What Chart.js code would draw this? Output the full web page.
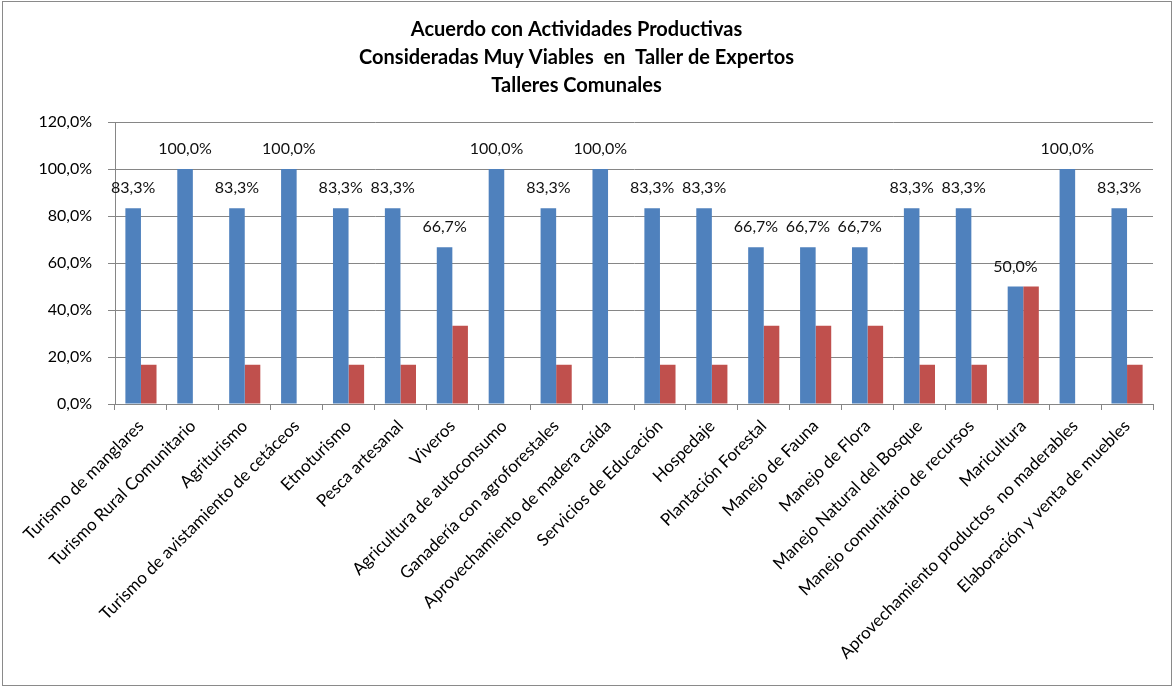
<!DOCTYPE html>
<html>
<head>
<meta charset="utf-8">
<script src="https://cdn.jsdelivr.net/npm/chart.js@4"></script>
<style>
  body { margin: 0; background: #fff; }
  #wrap { position: relative; width: 1174px; height: 688px; }
  #frame { position: absolute; left: 2px; top: 1px; width: 1168px; height: 683px; border: 1px solid #8a8a8a; pointer-events: none; }
</style>
</head>
<body>
<div id="wrap">
  <canvas id="chart" width="1174" height="688"></canvas>
  <div id="frame"></div>
</div>
<script>
const categories = [
  "Turismo de manglares",
  "Turismo Rural Comunitario",
  "Agriturismo",
  "Turismo de avistamiento de cetáceos",
  "Etnoturismo",
  "Pesca artesanal",
  "Viveros",
  "Agricultura de autoconsumo",
  "Ganadería con agroforestales",
  "Aprovechamiento de madera caída",
  "Servicios de Educación",
  "Hospedaje",
  "Plantación Forestal",
  "Manejo de Fauna",
  "Manejo de Flora",
  "Manejo Natural del Bosque",
  "Manejo comunitario de recursos",
  "Maricultura",
  "Aprovechamiento productos  no maderables",
  "Elaboración y venta de muebles"
];

// percent "de acuerdo" (blue) and the rest (red)
const acuerdo = [83.3, 100, 83.3, 100, 83.3, 83.3, 66.7, 100, 83.3, 100, 83.3, 83.3, 66.7, 66.7, 66.7, 83.3, 83.3, 50, 100, 83.3];
const desacuerdo = [16.7, 0, 16.7, 0, 16.7, 16.7, 33.3, 0, 16.7, 0, 16.7, 16.7, 33.3, 33.3, 33.3, 16.7, 16.7, 50, 0, 16.7];

const titleLines = [
  "Acuerdo con Actividades Productivas",
  "Consideradas Muy Viables  en  Taller de Expertos",
  "Talleres Comunales"
];

const FONT = "Lato, 'Open Sans', sans-serif";
const fmt = (v) => v.toFixed(1).replace(".", ",") + "%";

// labels above the blue bars only
const barLabels = {
  id: "barLabels",
  afterDatasetsDraw(chart) {
    const ctx = chart.ctx;
    const meta = chart.getDatasetMeta(0);
    ctx.save();
    ctx.font = "16px " + FONT;
    ctx.fillStyle = "#111";
    ctx.textAlign = "center";
    ctx.textBaseline = "middle";
    meta.data.forEach((bar, i) => {
      ctx.fillText(fmt(acuerdo[i]), bar.x, bar.y - 20);
    });
    ctx.restore();
  }
};

new Chart(document.getElementById("chart"), {
  type: "bar",
  data: {
    labels: categories,
    datasets: [
      { data: acuerdo, backgroundColor: "#4F81BD", categoryPercentage: 0.6, barPercentage: 1 },
      { data: desacuerdo, backgroundColor: "#C0504D", categoryPercentage: 0.6, barPercentage: 1 }
    ]
  },
  options: {
    responsive: false,
    animation: false,
    layout: { padding: { left: 0, right: 21, top: 0, bottom: 0 } },
    plugins: {
      legend: { display: false },
      tooltip: { enabled: false },
      title: {
        display: true,
        text: titleLines,
        color: "#000",
        font: { family: FONT, size: 20, weight: "bold", lineHeight: 1.4 },
        padding: { top: 16, bottom: 22 }
      }
    },
    scales: {
      x: {
        afterFit: (scale) => { scale.height = 284; },
        grid: { offset: true, drawOnChartArea: false, drawTicks: true, tickLength: 6, color: "#868686" },
        border: { color: "#868686" },
        ticks: {
          autoSkip: false,
          maxRotation: 45,
          minRotation: 45,
          color: "#000",
          padding: 6,
          font: { family: FONT, size: 17 }
        }
      },
      y: {
        min: 0,
        max: 120,
        afterFit: (scale) => { scale.width = 115; },
        grid: { color: "#868686", tickLength: 7 },
        border: { color: "#868686" },
        ticks: {
          stepSize: 20,
          color: "#000",
          padding: 16,
          font: { family: FONT, size: 16 },
          callback: (v) => fmt(v)
        }
      }
    }
  },
  plugins: [barLabels]
});
</script>
</body>
</html>
